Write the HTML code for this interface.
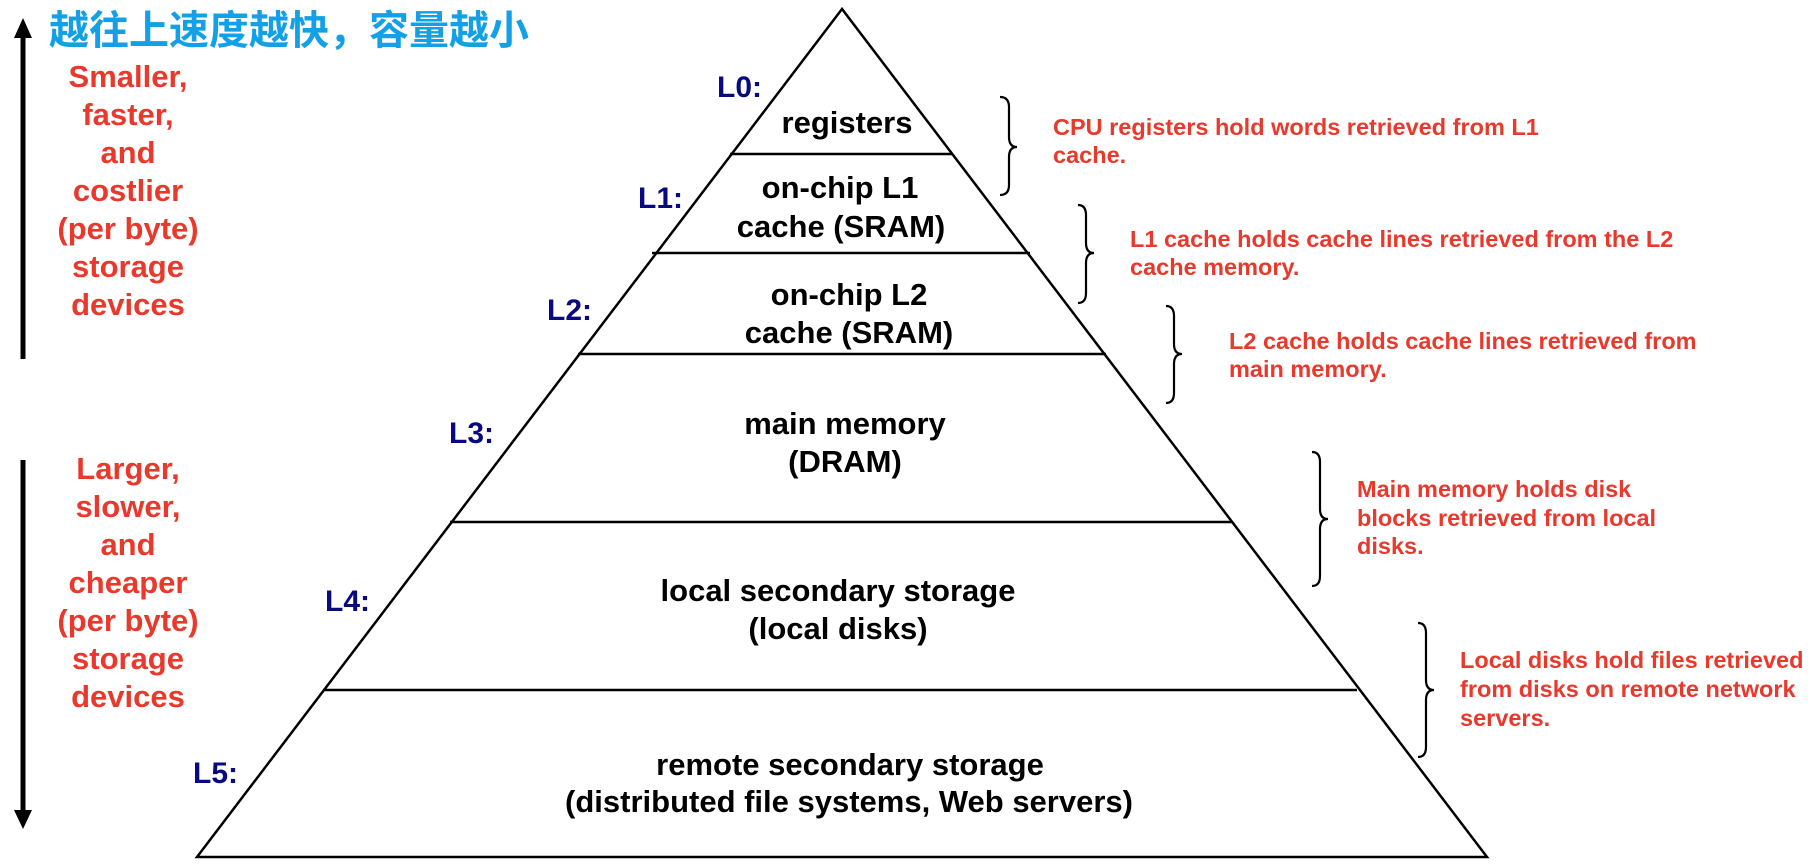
<!DOCTYPE html>
<html><head><meta charset="utf-8"><style>
html,body{margin:0;padding:0;background:#fff;width:1814px;height:864px;overflow:hidden}
svg{display:block}
.b{font-family:"Liberation Sans",Arial,sans-serif;font-weight:bold}
</style></head><body>
<svg width="1814" height="864" viewBox="0 0 1814 864" xmlns="http://www.w3.org/2000/svg">
<polygon points="842,9 197,857 1487,857" fill="none" stroke="#000" stroke-width="2.5" stroke-linejoin="miter"/>
<g stroke="#000" stroke-width="2.5">
<line x1="730" y1="154" x2="952" y2="154"/>
<line x1="652" y1="253" x2="1030" y2="253"/>
<line x1="578" y1="354" x2="1106" y2="354"/>
<line x1="450" y1="522" x2="1232" y2="522"/>
<line x1="323" y1="690" x2="1357" y2="690"/>
</g>
<g class="b" font-size="31" fill="#000" text-anchor="middle">
<text x="847" y="133">registers</text>
<text x="840" y="198">on-chip L1</text>
<text x="841" y="237">cache (SRAM)</text>
<text x="849" y="305">on-chip L2</text>
<text x="849" y="343">cache (SRAM)</text>
<text x="845" y="434">main memory</text>
<text x="845" y="472">(DRAM)</text>
<text x="838" y="601">local secondary storage</text>
<text x="838" y="639">(local disks)</text>
<text x="850" y="775">remote secondary storage</text>
<text x="849" y="812">(distributed file systems, Web servers)</text>
</g>
<g class="b" font-size="30" fill="#0a0a80">
<text x="717" y="97">L0:</text>
<text x="638" y="208">L1:</text>
<text x="547" y="320">L2:</text>
<text x="449" y="443">L3:</text>
<text x="325" y="611">L4:</text>
<text x="193" y="783">L5:</text>
</g>
<text x="49" y="44" font-family="'Liberation Sans','Noto Sans CJK SC',sans-serif" font-weight="bold" font-size="40" fill="#14a0e6">越往上速度越快，容量越小</text>
<line x1="23" y1="359" x2="23" y2="36" stroke="#000" stroke-width="5"/>
<polygon points="23,18 14,38 32,38" fill="#000"/>
<line x1="23" y1="460" x2="23" y2="812" stroke="#000" stroke-width="5"/>
<polygon points="23,829 14,810 32,810" fill="#000"/>
<g class="b" font-size="31" fill="#e8392c" text-anchor="middle">
<text x="128" y="87">Smaller,</text>
<text x="128" y="125">faster,</text>
<text x="128" y="163">and</text>
<text x="128" y="201">costlier</text>
<text x="128" y="239">(per byte)</text>
<text x="128" y="277">storage</text>
<text x="128" y="315">devices</text>
<text x="128" y="479">Larger,</text>
<text x="128" y="517">slower,</text>
<text x="128" y="555">and</text>
<text x="128" y="593">cheaper</text>
<text x="128" y="631">(per byte)</text>
<text x="128" y="669">storage</text>
<text x="128" y="707">devices</text>
</g>
<g fill="none" stroke="#000" stroke-width="2.2">
<path d="M1000,97 Q1009,97 1009,107 L1009,137 Q1009,147 1017,147 Q1009,147 1009,157 L1009,185 Q1009,195 1000,195"/>
<path d="M1078,205 Q1086,205 1086,215 L1086,243 Q1086,253 1094,253 Q1086,253 1086,263 L1086,293 Q1086,303 1078,303"/>
<path d="M1166,306 Q1174,306 1174,316 L1174,344 Q1174,354 1182,354 Q1174,354 1174,364 L1174,393 Q1174,403 1166,403"/>
<path d="M1312,452 Q1320,452 1320,462 L1320,509 Q1320,519 1328,519 Q1320,519 1320,529 L1320,576 Q1320,586 1312,586"/>
<path d="M1418,623 Q1426,623 1426,633 L1426,680 Q1426,690 1434,690 Q1426,690 1426,700 L1426,747 Q1426,757 1418,757"/>
</g>
<g class="b" font-size="23.5" fill="#e8392c">
<text x="1053" y="135">CPU registers hold words retrieved from L1</text>
<text x="1053" y="163">cache.</text>
<text x="1130" y="247">L1 cache holds cache lines retrieved from the L2</text>
<text x="1130" y="275">cache memory.</text>
<text x="1229" y="349">L2 cache holds cache lines retrieved from</text>
<text x="1229" y="377">main memory.</text>
<text x="1357" y="497">Main memory holds disk</text>
<text x="1357" y="526">blocks retrieved from local</text>
<text x="1357" y="554">disks.</text>
<text x="1460" y="668">Local disks hold files retrieved</text>
<text x="1460" y="697">from disks on remote network</text>
<text x="1460" y="726">servers.</text>
</g>
</svg>
</body></html>
